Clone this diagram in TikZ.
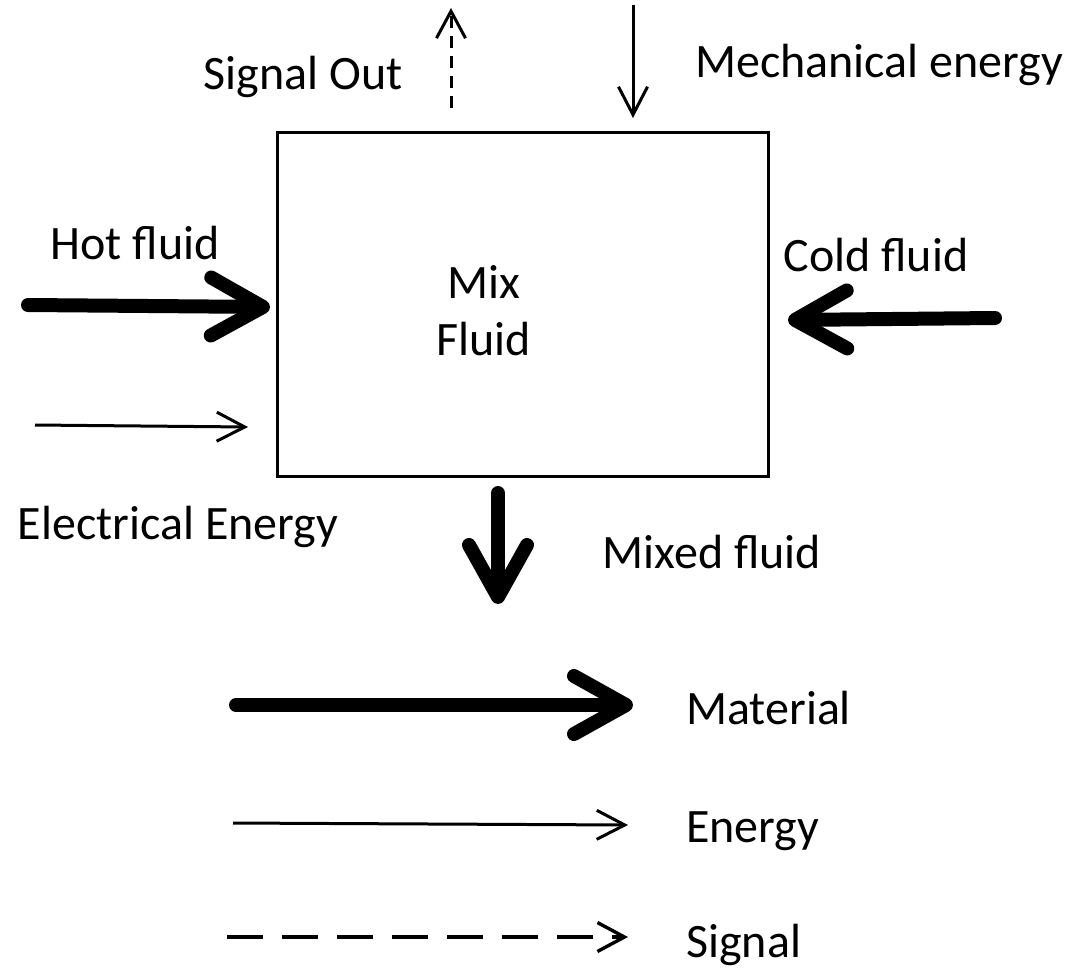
\documentclass[tikz,border=0pt]{standalone}
\usepackage{fontspec}
\setmainfont{Carlito}
\usetikzlibrary{arrows.meta}
\begin{document}
\begin{tikzpicture}[x=1pt,y=-1pt,
  lbl/.style={font=\fontsize{48}{57}\selectfont, inner sep=0pt, align=center},
  material/.style={line width=14pt, line cap=round, -{Straight Barb[length=52pt,width=58pt,line width=14pt,round]}},
  energy/.style={line width=3pt, -{Straight Barb[length=28pt,width=29pt]}},
  signalsm/.style={line width=3pt, dash pattern=on 12pt off 8pt, -{Straight Barb[length=27pt,width=29pt]}},
  signal/.style={line width=3.4pt, dash pattern=on 36pt off 19pt, -{Straight Barb[length=27pt,width=29pt]}},
  boxst/.style={draw, line width=3pt, minimum width=491pt, minimum height=344pt, inner sep=0pt}
]
\useasboundingbox (0,0) rectangle (1071,967);
\fill[white] (0,0) rectangle (1071,967);

% main box
\node[boxst] (box) at (522.5,304) {};
\node[lbl] (mix) at (484,311) {Mix\\Fluid};

% inputs/outputs
\coordinate (hotS) at (28,305);
\coordinate (hotE) at (270,307);
\draw[material] (hotS) -- (hotE);
\node[lbl] (hot) at (135,243) {Hot fluid};

\coordinate (coldS) at (995,318);
\coordinate (coldE) at (788,320);
\draw[material] (coldS) -- (coldE);
\node[lbl] (cold) at (876,255) {Cold fluid};

\coordinate (elS) at (35,425);
\coordinate (elE) at (248,427);
\draw[energy] (elS) -- (elE);
\node[lbl] (elec) at (178,527) {Electrical Energy};

\coordinate (mixS) at (498,493);
\coordinate (mixE) at (498,604);
\draw[material] (mixS) -- (mixE);
\node[lbl] (mixed) at (712,552) {Mixed fluid};

\coordinate (sigS) at (451,108);
\coordinate (sigE) at (451,8);
\draw[signalsm] (sigS) -- (sigE);
\node[lbl] (sigout) at (303,77) {Signal Out};

\coordinate (mechS) at (633,5);
\coordinate (mechE) at (633,118);
\draw[energy] (mechS) -- (mechE);
\node[lbl] (mech) at (879,65) {Mechanical energy};

% legend
\coordinate (l1S) at (236,705);
\coordinate (l1E) at (633,705);
\draw[material] (l1S) -- (l1E);
\node[lbl, anchor=west] (lmat) at (686,708) {Material};

\coordinate (l2S) at (233,823);
\coordinate (l2E) at (628,825);
\draw[energy] (l2S) -- (l2E);
\node[lbl, anchor=base west] (len) at (686,842) {Energy};

\coordinate (l3S) at (227,937);
\coordinate (l3E) at (628,937);
\draw[signal] (l3S) -- (l3E);
\node[lbl, anchor=base west] (lsig) at (686,957) {Signal};
\end{tikzpicture}
\end{document}
